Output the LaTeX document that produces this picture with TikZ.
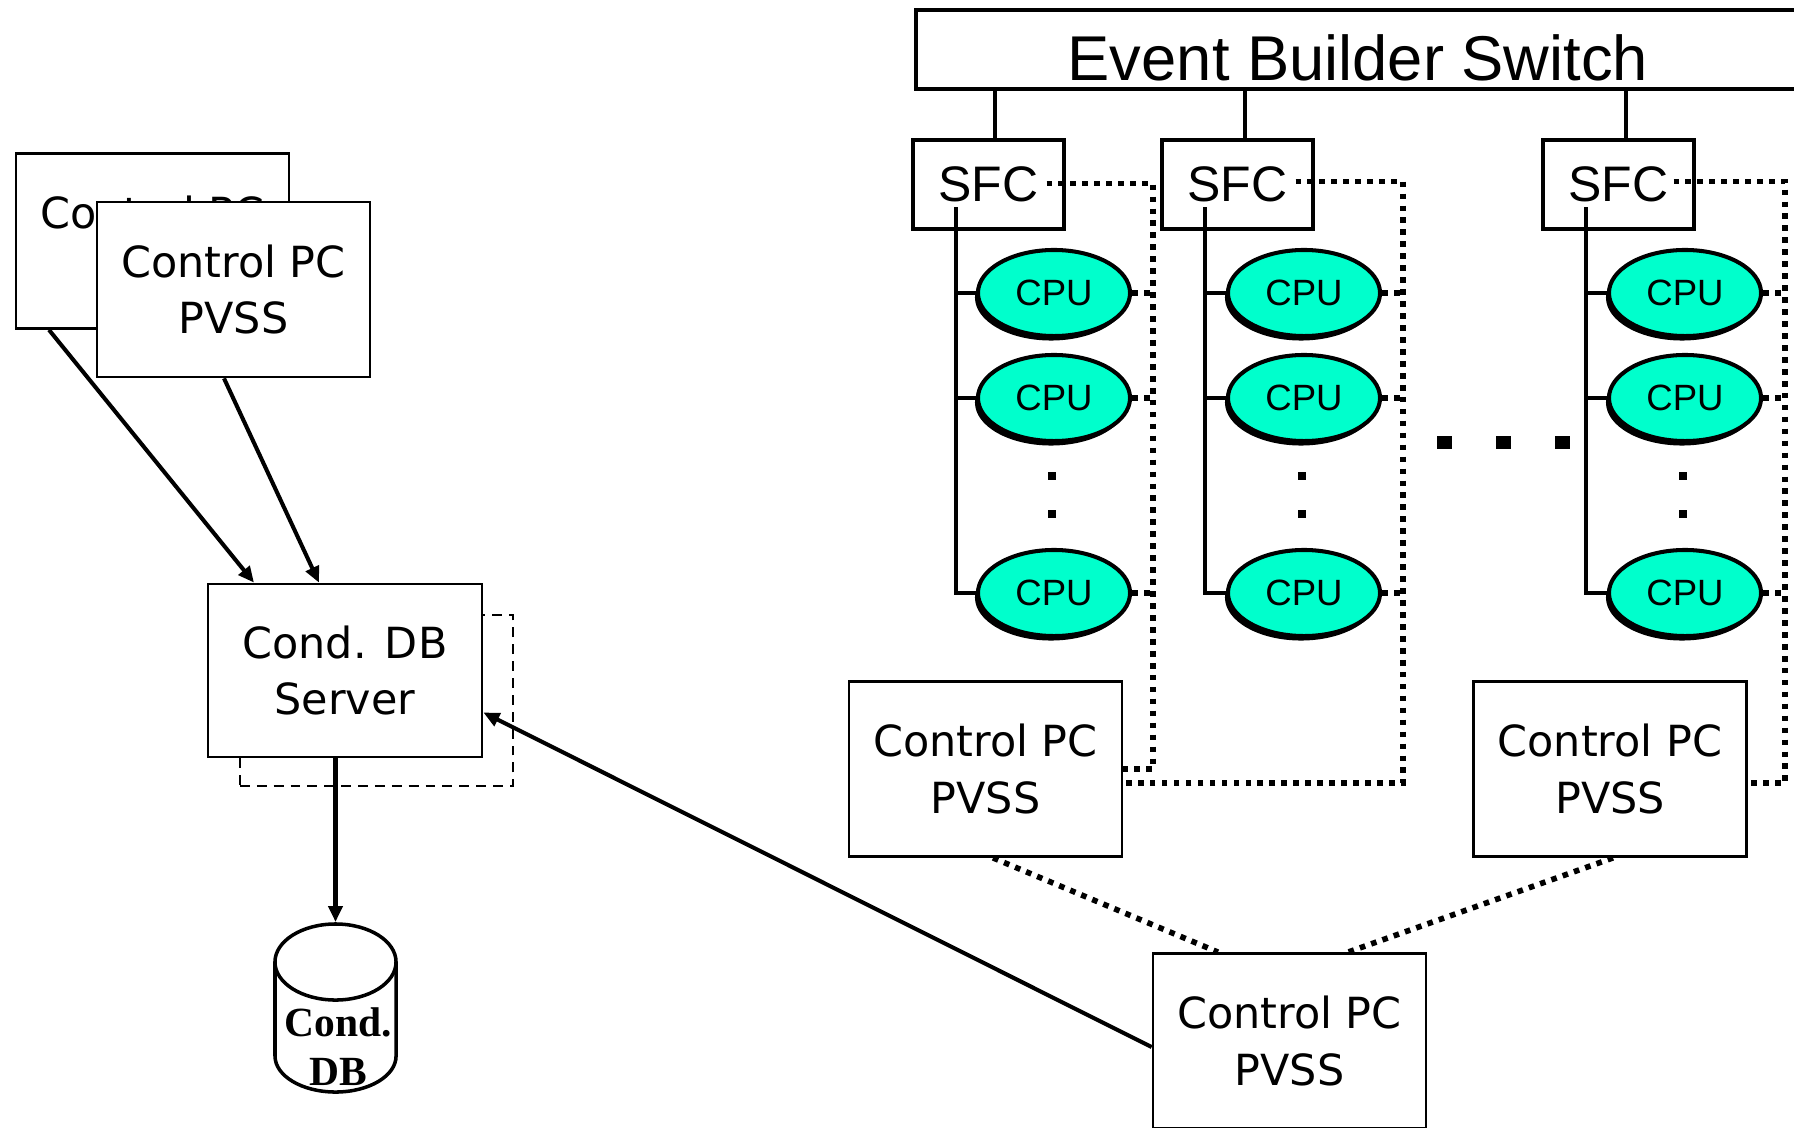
\documentclass[tikz,border=0pt]{standalone}
\usepackage{fontspec}
\setmainfont{Liberation Sans}
\newfontfamily\maofont{DejaVu Sans}
\newfontfamily\serifa{Liberation Serif}
\usepackage{xcolor}
\usepackage{tikz}
\usetikzlibrary{arrows.meta,positioning,shapes.geometric,calc,shadows}
\definecolor{cpuverde}{RGB}{0,255,204}
\tikzset{
    caixa/.style={
        rectangle,
        draw,
        line width=0.75pt,
        fill=white,
        align=center,
        inner sep=0pt,
        minimum width=2.73cm,
        minimum height=1.75cm,
        font=\maofont\fontsize{12.2}{16.2}\selectfont
    },
    sfcbox/.style={
        rectangle,
        draw,
        line width=1.25pt,
        fill=white,
        inner sep=0pt,
        minimum width=1.51cm,
        minimum height=0.89cm,
        font=\fontsize{14.2}{16}\selectfont
    },
    cpu/.style={
        ellipse,
        draw,
        line width=1.15pt,
        fill=cpuverde,
        inner sep=0pt,
        minimum width=1.52cm,
        minimum height=0.86cm,
        font=\fontsize{10.4}{12}\selectfont,
        drop shadow={shadow xshift=-0.03cm, shadow yshift=-0.045cm, fill=black, opacity=1}
    },
    barra/.style={line width=1.3pt},
    fluxo/.style={-{Triangle[length=0.16cm, width=0.14cm]}, line width=1.15pt},
    pontilhado/.style={line width=1.6pt, dash pattern=on 1.6pt off 1.8pt},
    tracejado/.style={rectangle, draw, line width=0.65pt, dash pattern=on 2.8pt off 2pt},
    ponto/.style={rectangle, fill=black, inner sep=0pt, minimum size=0.075cm},
    pontao/.style={rectangle, fill=black, inner sep=0pt, minimum width=0.15cm, minimum height=0.13cm}
}

\begin{document}
\begin{tikzpicture}[x=0.01cm, y=-0.01cm]
    \useasboundingbox (0,0) rectangle (1794,1127);

    % switch e SFCs
    \node[draw, line width=1.25pt, anchor=base, inner sep=0pt, minimum width=8.84cm,
        text height=0.7cm, text depth=0.09cm, font=\fontsize{18}{20}\selectfont]
        (ebs) at (1358,80) {Event Builder Switch};
    \node[sfcbox] (sfcA) at (988.5,184.5) {SFC};
    \node[sfcbox] (sfcB) at (1237.5,184.5) {SFC};
    \node[sfcbox] (sfcC) at (1618.5,184.5) {SFC};
    \draw[barra] ($(sfcA.north)+(6.5,0)$) -- ($(sfcA.north |- ebs.south)+(6.5,0)$);
    \draw[barra] ($(sfcB.north)+(7.5,0)$) -- ($(sfcB.north |- ebs.south)+(7.5,0)$);
    \draw[barra] ($(sfcC.north)+(7.5,0)$) -- ($(sfcC.north |- ebs.south)+(7.5,0)$);

    % CPUs
    \node[cpu] (cpuA1) at (1054,293) {CPU};
    \node[cpu] (cpuA2) at (1054,398) {CPU};
    \node[cpu] (cpuA3) at (1054,593) {CPU};
    \node[cpu] (cpuB1) at (1304,293) {CPU};
    \node[cpu] (cpuB2) at (1304,398) {CPU};
    \node[cpu] (cpuB3) at (1304,593) {CPU};
    \node[cpu] (cpuC1) at (1685,293) {CPU};
    \node[cpu] (cpuC2) at (1685,398) {CPU};
    \node[cpu] (cpuC3) at (1685,593) {CPU};
    \node[ponto] (vA1) at (1052,476) {};
    \node[ponto] (vA2) at (1052,514) {};
    \node[ponto] (vB1) at (1302,476) {};
    \node[ponto] (vB2) at (1302,514) {};
    \node[ponto] (vC1) at (1683,476) {};
    \node[ponto] (vC2) at (1683,514) {};
    \node[pontao] (mais1) at (1444,442) {};
    \node[pontao] (mais2) at (1503,442) {};
    \node[pontao] (mais3) at (1562,442) {};

    % barramentos
    \coordinate (busA) at ($(sfcA.center)+(-32.5,22.5)$);
    \coordinate (busB) at ($(sfcB.center)+(-32.5,22.5)$);
    \coordinate (busC) at ($(sfcC.center)+(-32.5,22.5)$);
    \draw[barra] (busA) |- (cpuA3.west);
    \draw[barra] (busA |- cpuA1.west) -- (cpuA1.west);
    \draw[barra] (busA |- cpuA2.west) -- (cpuA2.west);
    \draw[barra] (busB) |- (cpuB3.west);
    \draw[barra] (busB |- cpuB1.west) -- (cpuB1.west);
    \draw[barra] (busB |- cpuB2.west) -- (cpuB2.west);
    \draw[barra] (busC) |- (cpuC3.west);
    \draw[barra] (busC |- cpuC1.west) -- (cpuC1.west);
    \draw[barra] (busC |- cpuC2.west) -- (cpuC2.west);

    % PCs de controle
    \node[caixa] (ctrlL) at (985.5,769) {Control PC\\PVSS};
    \node[caixa] (ctrlR) at (1610,769) {Control PC\\PVSS};
    \node[caixa] (ctrlB) at (1289.5,1041) {Control PC\\PVSS};
    \node[caixa] (pcTras) at (152.5,241) {Control PC\\PVSS};
    \node[caixa] (pcFrente) at (233.5,289.5) {Control PC\\PVSS};

    % rede de controle
    \coordinate (dA) at (1153,769);
    \coordinate (dB) at (1403,783);
    \coordinate (dC) at (1785,783);
    \draw[pontilhado] ($(sfcA.center)+(58,-1)$) -| (dA) -- (dA -| ctrlL.east);
    \draw[pontilhado] ($(sfcB.center)+(58,-3)$) -| (dB) -- (dB -| ctrlL.east);
    \draw[pontilhado] ($(sfcC.center)+(55,-3)$) -| (dC) -- (dC -| ctrlR.east);
    \draw[pontilhado] (cpuA1.east) -- (cpuA1 -| dA);
    \draw[pontilhado] (cpuA2.east) -- (cpuA2 -| dA);
    \draw[pontilhado] (cpuA3.east) -- (cpuA3 -| dA);
    \draw[pontilhado] (cpuB1.east) -- (cpuB1 -| dB);
    \draw[pontilhado] (cpuB2.east) -- (cpuB2 -| dB);
    \draw[pontilhado] (cpuB3.east) -- (cpuB3 -| dB);
    \draw[pontilhado] (cpuC1.east) -- (cpuC1 -| dC);
    \draw[pontilhado] (cpuC2.east) -- (cpuC2 -| dC);
    \draw[pontilhado] (cpuC3.east) -- (cpuC3 -| dC);
    \draw[pontilhado] ($(ctrlL.south)+(7.5,0)$) -- ($(ctrlB.north)+(-71.5,0)$);
    \draw[pontilhado] ($(ctrlR.south)+(3,0)$) -- ($(ctrlB.north)+(58.5,0)$);

    % servidor e base de dados
    \node[tracejado, minimum width=2.73cm, minimum height=1.71cm] (serverSombra) at (376.5,700.5) {};
    \node[caixa, minimum width=2.74cm, minimum height=1.73cm] (server) at (345,670.5) {Cond. DB\\Server};
    \draw[line width=1pt, fill=white] (275,962) -- (275,1056)
        arc[start angle=180, end angle=360, x radius=0.605cm, y radius=0.36cm] -- (396,962);
    \draw[line width=1pt] (335.5,962) ellipse[x radius=0.605cm, y radius=0.38cm];
    \coordinate (dbtopo) at (335.5,922);
    \node[align=center, inner sep=0pt, font=\serifa\bfseries\fontsize{11.8}{14}\selectfont]
        (conddb) at (338,1047) {Cond.\\DB};

    \draw[fluxo] ($(pcTras.south)+(-103.5,0)$) -- ($(server.north)+(-91,0)$);
    \draw[fluxo] ($(pcFrente.south)+(-9.5,0)$) -- ($(server.north)+(-26,0)$);
    \draw[fluxo] ($(ctrlB.west)+(0,6)$) -- ($(server.east)+(0,42)$);
    \draw[fluxo] (server.south -| dbtopo) -- (dbtopo);
\end{tikzpicture}
\end{document}
